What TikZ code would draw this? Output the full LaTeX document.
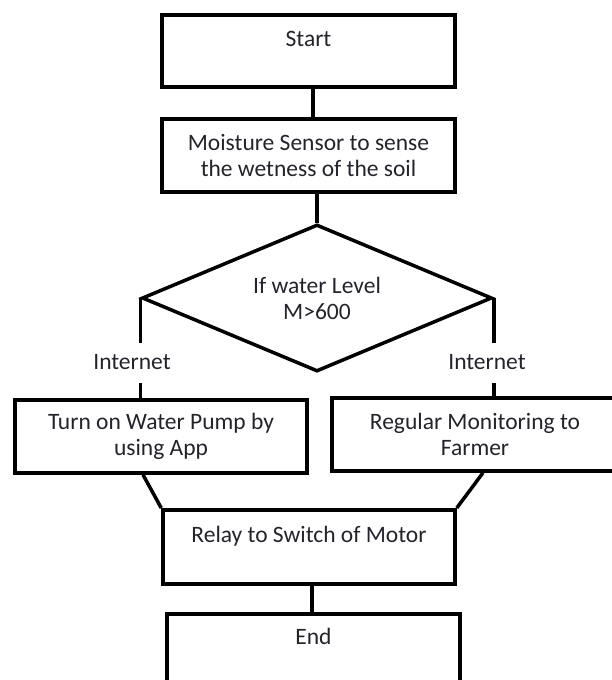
\documentclass[tikz,border=0pt]{standalone}
\usepackage{fontspec}
\setmainfont{Carlito}
\usetikzlibrary{shapes.geometric}
\definecolor{txt}{HTML}{23232B}
\begin{document}
\begin{tikzpicture}[x=1pt,y=-1pt,
  every node/.style={font=\fontsize{23.5}{26}\selectfont, text=txt},
  box/.style={draw, line width=3.5pt, rectangle, inner sep=0pt, align=center},
  decbox/.style={draw, diamond, line width=3.5pt, inner sep=0pt, align=center},
  lbl/.style={inner sep=0pt, text height=26pt, text depth=14pt, anchor=base},
  conn/.style={line width=3.5pt}]
\useasboundingbox (0,0) rectangle (612,680);
\clip (0,0) rectangle (612,680);
\node[box, minimum width=293pt, text height=32pt, text depth=40pt, anchor=north] (start) at (308.5,13) {Start};
\node[box, minimum width=293pt, minimum height=73pt] (moist) at (308.5,155.5) {Moisture Sensor to sense\\the wetness of the soil};
\node[decbox, minimum width=350pt, minimum height=147pt, aspect=2.38] (dec) at (317,298) {If water Level\\M>600};
\node[box, minimum width=292pt, minimum height=73pt] (lbox) at (161,436.5) {Turn on Water Pump by\\using App};
\node[box, minimum width=286pt, minimum height=73pt] (rbox) at (475,434.5) {Regular Monitoring to\\Farmer};
\node[box, minimum width=292pt, text height=33pt, text depth=41pt, anchor=north] (relay) at (309,508) {Relay to Switch of Motor};
\node[box, minimum width=293pt, text height=31pt, text depth=70pt, anchor=north] (end) at (313.5,612) {End};
\node[lbl] (inl) at (132,369) {Internet};
\node[lbl] (inr) at (487,369) {Internet};
\draw[conn] ([xshift=4.5pt]start.south) -- ([xshift=4.5pt]moist.north);
\draw[conn] (moist.south -| dec.north) -- (dec.north);
\draw[conn] (dec.west) -- (dec.west |- inl.north);
\draw[conn] (dec.west |- inl.south) -- (dec.west |- lbox.north);
\draw[conn] (dec.east) -- (dec.east |- inr.north);
\draw[conn] (dec.east |- inr.south) -- (dec.east |- rbox.north);
\draw[conn] ([xshift=-18pt]lbox.south) -- (relay.north west);
\draw[conn] ([xshift=8pt]rbox.south) -- (relay.north east);
\draw[conn] ([xshift=3pt]relay.south) -- ([xshift=3pt]relay.south |- end.north);
\end{tikzpicture}
\end{document}
